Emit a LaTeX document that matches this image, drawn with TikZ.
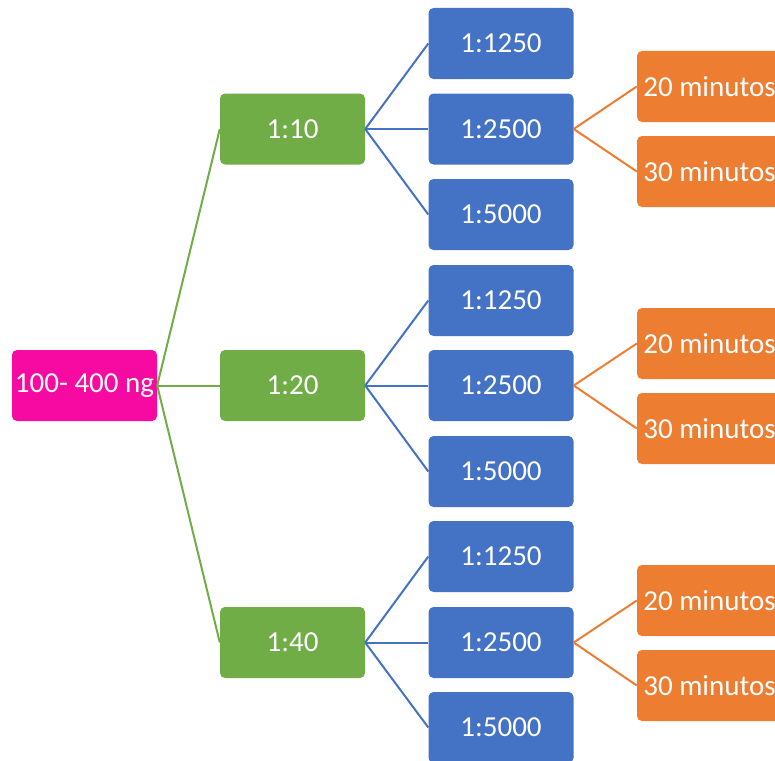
\documentclass[tikz,border=0pt]{standalone}
\usepackage{fontspec}
\setmainfont{Carlito}
\usepackage{xcolor}
\usetikzlibrary{calc,positioning}
\definecolor{rosa}{HTML}{F70AA1}
\definecolor{verde}{HTML}{70AD47}
\definecolor{azul}{HTML}{4472C4}
\definecolor{naranja}{HTML}{ED7D31}

\begin{document}
\begin{tikzpicture}[x=1pt, y=-1pt]
	\tikzstyle{every node} = [rectangle, rounded corners = 5pt, minimum width = 145pt, minimum height = 71pt, inner sep = 0pt, text = white, font = \fontsize{29}{34}\selectfont]
	\tikzstyle{caja0} = [fill = rosa]
	\tikzstyle{caja1} = [fill = verde]
	\tikzstyle{caja2} = [fill = azul]
	\tikzstyle{caja3} = [fill = naranja]
\useasboundingbox (0, 0) rectangle (775, 760);
\clip (0, 0) rectangle (775, 760);
\node[caja0] (0) at (84.5, 385.5) {100- 400 ng};
\node[caja1] (1) at (292.5, 129) {1:10};
\node[caja1] (2) at (292.5, 385.5) {1:20};
\node[caja1] (3) at (292.5, 642.5) {1:40};
\node[caja2] (11) at (501, 43.5) {1:1250};
\node[caja2] (12) at (501, 129) {1:2500};
\node[caja2] (13) at (501, 214.5) {1:5000};
\node[caja2] (21) at (501, 300.5) {1:1250};
\node[caja2] (22) at (501, 385.5) {1:2500};
\node[caja2] (23) at (501, 471.5) {1:5000};
\node[caja2] (31) at (501, 556.5) {1:1250};
\node[caja2] (32) at (501, 642.5) {1:2500};
\node[caja2] (33) at (501, 727.5) {1:5000};
\node[caja3] (121) at (709.5, 86.5) {20 minutos};
\node[caja3] (122) at (709.5, 171.5) {30 minutos};
\node[caja3] (221) at (709.5, 343.5) {20 minutos};
\node[caja3] (222) at (709.5, 428.5) {30 minutos};
\node[caja3] (321) at (709.5, 600.5) {20 minutos};
\node[caja3] (322) at (709.5, 685.5) {30 minutos};
	\path[draw, verde, line width = 2pt] (0.east) -- (1.west);
	\path[draw, verde, line width = 2pt] (0.east) -- (2.west);
	\path[draw, verde, line width = 2pt] (0.east) -- (3.west);
	\path[draw, azul, line width = 2pt] (1.east) -- (11.west);
	\path[draw, azul, line width = 2pt] (1.east) -- (12.west);
	\path[draw, azul, line width = 2pt] (1.east) -- (13.west);
	\path[draw, azul, line width = 2pt] (2.east) -- (21.west);
	\path[draw, azul, line width = 2pt] (2.east) -- (22.west);
	\path[draw, azul, line width = 2pt] (2.east) -- (23.west);
	\path[draw, azul, line width = 2pt] (3.east) -- (31.west);
	\path[draw, azul, line width = 2pt] (3.east) -- (32.west);
	\path[draw, azul, line width = 2pt] (3.east) -- (33.west);
	\path[draw, naranja, line width = 2pt] (12.east) -- (121.west);
	\path[draw, naranja, line width = 2pt] (12.east) -- (122.west);
	\path[draw, naranja, line width = 2pt] (22.east) -- (221.west);
	\path[draw, naranja, line width = 2pt] (22.east) -- (222.west);
	\path[draw, naranja, line width = 2pt] (32.east) -- (321.west);
	\path[draw, naranja, line width = 2pt] (32.east) -- (322.west);
\end{tikzpicture}
\end{document}
